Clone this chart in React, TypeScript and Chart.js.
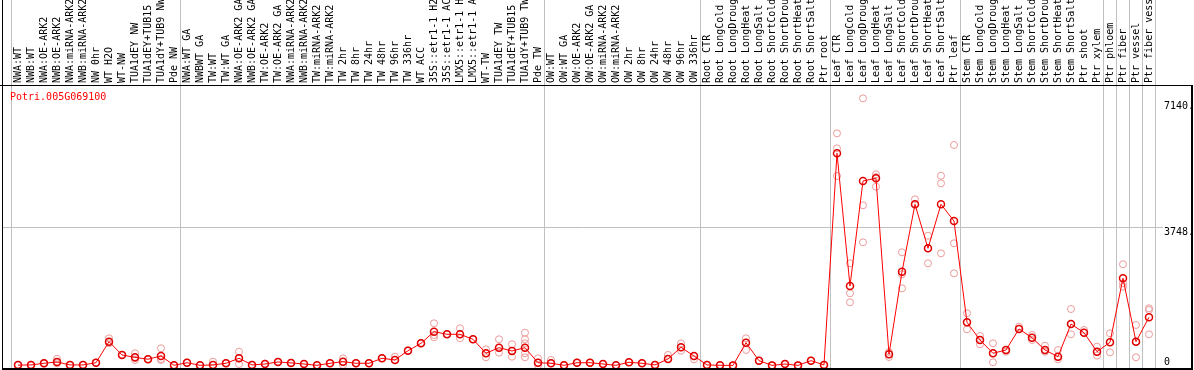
import React, { useEffect, useRef } from 'react';
import { Chart, registerables } from 'chart.js';

Chart.register(...registerables);

const geneId = 'Potri.005G069100';

const categories = [
  'NWA:WT', 'NWB:WT', 'NWA:OE-ARK2', 'NWB:OE-ARK2', 'NWA:miRNA-ARK2', 'NWB:miRNA-ARK2',
  'NW 0hr', 'WT H2O', 'WT-NW', 'TUA1dEY NW', 'TUA1dEY+TUB15 NW', 'TUA1dY+TUB9 NW', 'Pde NW',
  'NWA:WT GA', 'NWBWT GA', 'TW:WT', 'TW:WT GA', 'NWA:OE-ARK2 GA', 'NWB:OE-ARK2 GA',
  'TW:OE-ARK2', 'TW:OE-ARK2 GA', 'NWA:miRNA-ARK2', 'NWB:miRNA-ARK2', 'TW:miRNA-ARK2',
  'TW:miRNA-ARK2', 'TW 2hr', 'TW 8hr', 'TW 24hr', 'TW 48hr', 'TW 96hr', 'TW 336hr',
  'WT ACC', '35S::etr1-1 H2O', '35S::etr1-1 ACC', 'LMX5::etr1-1 H2O', 'LMX5::etr1-1 ACC',
  'WT-TW', 'TUA1dEY TW', 'TUA1dEY+TUB15 TW', 'TUA1dY+TUB9 TW', 'Pde TW',
  'OW:WT', 'OW:WT GA', 'OW:OE-ARK2', 'OW:OE-ARK2 GA', 'OW:miRNA-ARK2', 'OW:miRNA-ARK2',
  'OW 2hr', 'OW 8hr', 'OW 24hr', 'OW 48hr', 'OW 96hr', 'OW 336hr',
  'Root CTR', 'Root LongCold', 'Root LongDrought', 'Root LongHeat', 'Root LongSalt',
  'Root ShortCold', 'Root ShortDrought', 'Root ShortHeat', 'Root ShortSalt', 'Ptr root',
  'Leaf CTR', 'Leaf LongCold', 'Leaf LongDrought', 'Leaf LongHeat', 'Leaf LongSalt',
  'Leaf ShortCold', 'Leaf ShortDrought', 'Leaf ShortHeat', 'Leaf ShortSalt', 'Ptr leaf',
  'Stem CTR', 'Stem LongCold', 'Stem LongDrought', 'Stem LongHeat', 'Stem LongSalt',
  'Stem ShortCold', 'Stem ShortDrought', 'Stem ShortHeat', 'Stem ShortSalt', 'Ptr shoot',
  'Ptr xylem', 'Ptr phloem', 'Ptr fiber', 'Ptr vessel', 'Ptr fiber vessel',
];

const means = [
  10, 15, 60, 95, 15, 15, 75, 645, 285, 220, 170, 257, 5,
  75, 5, 15, 60, 195, 15, 40, 95, 70, 40, 5, 60, 103, 60, 60, 195, 150, 400,
  600, 915, 845, 845, 709, 330, 482, 392, 482, 75,
  60, 5, 75, 75, 40, 5, 87, 60, 15, 175, 493, 257,
  15, 5, 3, 617, 130, 3, 40, 3, 130, 15,
  5742, 2151, 4993, 5066, 303, 2538, 4362, 3171, 4362, 3910,
  1169, 690, 330, 419, 988, 752, 419, 238, 1123, 888,
  373, 628, 2360, 644, 1304,
];

const replicates = [
  [10, 20], [10, 20], [50, 70], [180, 60, 100], [15, 20], [15, 20], [70, 80],
  [735, 640, 600], [285, 290], [330, 150, 200], [170, 175], [465, 150, 175], [5, 10],
  [75, 80], [5, 10], [103, 15], [60, 70], [373, 40, 190], [15, 20], [40, 50], [95, 100],
  [70, 75], [40, 45], [5, 10], [60, 65], [195, 15, 100], [60, 70], [60, 65], [195, 200],
  [238, 150], [400, 410], [600, 610], [1142, 763, 825], [845, 850], [1007, 736, 845],
  [709, 715], [438, 222, 330], [709, 346, 480], [574, 238, 392], [888, 709, 600, 330, 222],
  [195, 0, 75], [150, 60], [5, 10], [75, 80], [75, 80], [40, 45], [5, 10], [87, 90],
  [60, 65], [15, 20], [285, 175], [600, 400, 490], [168, 257], [15, 20], [5, 10], [3, 5],
  [736, 420, 617], [130, 135], [3, 5], [40, 45], [3, 5], [130, 135], [15, 20],
  [6283, 5877, 5128], [2766, 1954, 1710], [7230, 4335, 3334], [5174, 4838, 5100],
  [365, 230, 303], [3063, 2468, 2089], [4497, 4362], [3512, 2766, 3171],
  [5136, 4930, 3036], [5967, 3307, 2495], [1413, 980, 1169], [798, 574, 690],
  [600, 87, 330], [373, 420], [1050, 988], [825, 690, 752], [536, 373, 419],
  [420, 168, 238], [1529, 844, 1123], [961, 888], [509, 265, 373], [871, 357, 628],
  [2739, 2224, 2132], [1096, 222, 644], [1548, 1502, 844],
];

const yTickValues = [0, 3748, 7140];
const yTickLabels = ['0', '3748.', '7140.'];
const groupSeparators = [-0.5, 12.5, 40.5, 52.5, 62.5, 72.5, 83.5, 84.5, 85.5, 86.5, 87.5];

const FONT_FAMILY = '"DejaVu Sans Mono", "Liberation Mono", monospace';
const FONT = '10px ' + FONT_FAMILY;

export default function App() {
  const ref = useRef<HTMLCanvasElement>(null);

  useEffect(() => {
    document.body.style.margin = '0';
    const canvas = ref.current;
    if (!canvas) return;

    const meanPoints = means.map((v, i) => ({ x: i, y: v }));
    const repPoints = replicates.flatMap((arr, i) => arr.map((v) => ({ x: i, y: v })));

    const framePlugin = {
      id: 'frame',
      beforeDatasetsDraw(chart: any) {
        const { ctx, chartArea, scales } = chart;
        const xs = scales.x;
        ctx.save();
        ctx.strokeStyle = '#c0c0c0';
        ctx.lineWidth = 1;
        groupSeparators.forEach((s) => {
          const px = Math.floor(xs.getPixelForValue(s)) + 0.5;
          ctx.beginPath();
          ctx.moveTo(px, 0);
          ctx.lineTo(px, chartArea.bottom);
          ctx.stroke();
        });
        ctx.restore();
      },
      afterDraw(chart: any) {
        const { ctx, chartArea, scales } = chart;
        const ys = scales.y;
        ctx.save();
        ctx.fillStyle = '#000';
        ctx.fillRect(chartArea.left, 0, 1, chartArea.bottom);
        ctx.fillRect(0, chartArea.top, 1193, 1);
        ctx.fillRect(chartArea.left, chartArea.bottom - 1, 1193 - chartArea.left, 2);
        ctx.fillRect(1191, chartArea.top, 2, chartArea.bottom - chartArea.top + 1);
        ctx.font = FONT;
        ctx.textAlign = 'left';
        ctx.textBaseline = 'middle';
        ctx.fillStyle = '#000';
        yTickValues.forEach((v, i) => {
          const py = ys.getPixelForValue(v);
          const ty = Math.min(py + 5, chartArea.bottom - 7);
          ctx.fillText(yTickLabels[i], chartArea.right + 1, ty);
        });
        ctx.fillStyle = '#ff0000';
        ctx.textBaseline = 'alphabetic';
        ctx.fillText(geneId, 10, 100);
        ctx.restore();
      },
    };

    const chart = new Chart(canvas, {
      type: 'line',
      data: {
        datasets: [
          {
            label: 'mean',
            data: meanPoints,
            borderColor: '#ff0000',
            borderWidth: 1,
            pointRadius: 3.5,
            pointBorderWidth: 1.5,
            pointBorderColor: '#e00000',
            pointBackgroundColor: 'rgba(0,0,0,0)',
            tension: 0,
            order: 1,
          } as any,
          {
            type: 'scatter',
            label: 'replicates',
            data: repPoints,
            showLine: false,
            pointRadius: 3.5,
            pointBorderWidth: 1,
            pointBorderColor: '#eb9a9a',
            pointBackgroundColor: 'rgba(0,0,0,0)',
            order: 2,
          } as any,
        ],
      },
      options: {
        responsive: false,
        animation: false,
        devicePixelRatio: 1,
        layout: { padding: { left: 2, right: 2, top: 0, bottom: 1 }, autoPadding: false },
        plugins: { legend: { display: false }, tooltip: { enabled: false } },
        scales: {
          x: {
            type: 'linear',
            position: 'top',
            min: -1.2308,
            max: 88.077,
            afterBuildTicks: (s: any) => {
              s.ticks = categories.map((_, i) => ({ value: i }));
            },
            afterFit: (s: any) => {
              s.height = 85;
            },
            ticks: {
              autoSkip: false,
              minRotation: 90,
              maxRotation: 90,
              padding: 2,
              labelOffset: 12,
              color: '#000',
              font: { family: FONT_FAMILY, size: 10, lineHeight: 1.2 },
              callback: (v: any) => categories[v] ?? '',
            },
            grid: { display: false, drawTicks: false },
            border: { display: false },
          },
          y: {
            type: 'linear',
            position: 'right',
            min: -95,
            max: 7591,
            afterBuildTicks: (s: any) => {
              s.ticks = yTickValues.map((v) => ({ value: v }));
            },
            afterFit: (s: any) => {
              s.width = 29;
            },
            ticks: { display: false },
            grid: {
              color: (c: any) => (c.tick && c.tick.value === 3748 ? '#c0c0c0' : 'rgba(0,0,0,0)'),
              drawTicks: false,
              lineWidth: 1,
            },
            border: { display: false },
          },
        },
      } as any,
      plugins: [framePlugin],
    });

    return () => chart.destroy();
  }, []);

  return (
    <div style={{ width: 1194, height: 370 }}>
      <canvas ref={ref} width={1194} height={370} style={{ display: 'block' }} />
    </div>
  );
}
